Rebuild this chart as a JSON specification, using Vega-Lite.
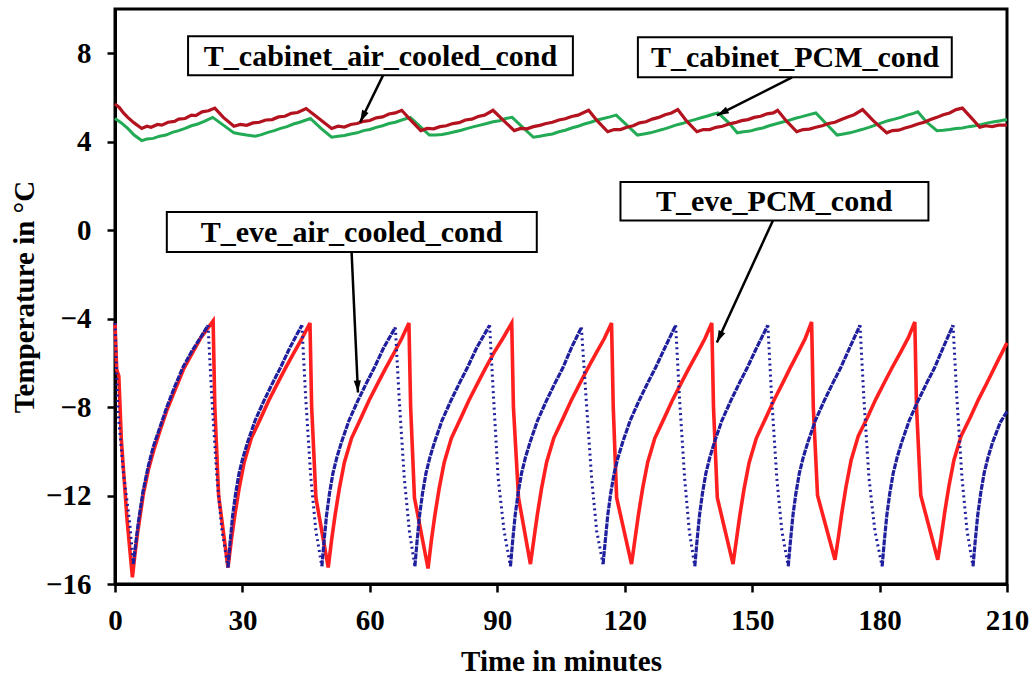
{
  "$schema": "https://vega.github.io/schema/vega-lite/v6.json",
  "autosize": {"type": "none"},
  "width": 892,
  "height": 575,
  "padding": {"left": 115, "top": 9, "right": 27, "bottom": 95},
  "background": "white",
  "config": {
    "view": {"stroke": "black", "strokeWidth": 3},
    "axis": {
      "grid": false,
      "domainColor": "black",
      "domainWidth": 3,
      "tickColor": "black",
      "tickWidth": 2.5,
      "tickSize": 8,
      "labelFont": "Liberation Serif",
      "labelFontSize": 29,
      "labelFontWeight": "bold",
      "labelColor": "black",
      "labelFlush": false,
      "labelOverlap": false,
      "titleFont": "Liberation Serif",
      "titleFontSize": 29,
      "titleFontWeight": "bold",
      "titleColor": "black"
    }
  },
  "datasets": {
    "eveAir": [
      {"c":0,"p":"d","t":0,"v":-4.2},{"c":0,"p":"d","t":0.7,"v":-8.2},{"c":0,"p":"d","t":2.0,"v":-11.0},{"c":0,"p":"d","t":3.5,"v":-13.3},{"c":0,"p":"d","t":4.3,"v":-15.1},
      {"c":1,"p":"r","t":4.3,"v":-15.1},{"c":1,"p":"r","t":4.8,"v":-14.3},{"c":1,"p":"r","t":5.5,"v":-13.2},{"c":1,"p":"r","t":6.6,"v":-11.8},{"c":1,"p":"r","t":7.8,"v":-10.7},{"c":1,"p":"r","t":9,"v":-9.8},{"c":1,"p":"r","t":10.6,"v":-8.9},{"c":1,"p":"r","t":12.2,"v":-8.0},{"c":1,"p":"r","t":14,"v":-7.1},{"c":1,"p":"r","t":16,"v":-6.2},{"c":1,"p":"r","t":18,"v":-5.5},{"c":1,"p":"r","t":20,"v":-4.9},{"c":1,"p":"r","t":21.9,"v":-4.3},
      {"c":1,"p":"d","t":21.9,"v":-4.3},{"c":1,"p":"d","t":22.8,"v":-7.6},{"c":1,"p":"d","t":24.0,"v":-11.2},{"c":1,"p":"d","t":25.2,"v":-13.6},{"c":1,"p":"d","t":26.6,"v":-15.25},
      {"c":2,"p":"r","t":26.6,"v":-15.25},{"c":2,"p":"r","t":27.1,"v":-14.1},{"c":2,"p":"r","t":27.7,"v":-12.9},{"c":2,"p":"r","t":28.4,"v":-11.9},{"c":2,"p":"r","t":29.2,"v":-11.0},{"c":2,"p":"r","t":30.1,"v":-10.3},{"c":2,"p":"r","t":31.2,"v":-9.6},{"c":2,"p":"r","t":33.0,"v":-8.6},{"c":2,"p":"r","t":35.1,"v":-7.7},{"c":2,"p":"r","t":37.0,"v":-6.95},{"c":2,"p":"r","t":39.0,"v":-6.2},{"c":2,"p":"r","t":41.2,"v":-5.3},{"c":2,"p":"r","t":44.0,"v":-4.3},
      {"c":2,"p":"d","t":44.0,"v":-4.3},{"c":2,"p":"d","t":44.9,"v":-7.6},{"c":2,"p":"d","t":46.1,"v":-11.2},{"c":2,"p":"d","t":47.3,"v":-13.6},{"c":2,"p":"d","t":48.7,"v":-15.2},
      {"c":3,"p":"r","t":48.7,"v":-15.2},{"c":3,"p":"r","t":49.2,"v":-14.1},{"c":3,"p":"r","t":49.8,"v":-12.9},{"c":3,"p":"r","t":50.5,"v":-11.9},{"c":3,"p":"r","t":51.3,"v":-11.0},{"c":3,"p":"r","t":52.2,"v":-10.3},{"c":3,"p":"r","t":53.3,"v":-9.6},{"c":3,"p":"r","t":55.1,"v":-8.6},{"c":3,"p":"r","t":57.2,"v":-7.7},{"c":3,"p":"r","t":59.1,"v":-6.95},{"c":3,"p":"r","t":61.1,"v":-6.2},{"c":3,"p":"r","t":63.3,"v":-5.3},{"c":3,"p":"r","t":66.0,"v":-4.4},
      {"c":3,"p":"d","t":66.0,"v":-4.4},{"c":3,"p":"d","t":66.9,"v":-7.6},{"c":3,"p":"d","t":68.1,"v":-11.2},{"c":3,"p":"d","t":69.3,"v":-13.6},{"c":3,"p":"d","t":70.6,"v":-15.2},
      {"c":4,"p":"r","t":70.6,"v":-15.2},{"c":4,"p":"r","t":71.1,"v":-14.1},{"c":4,"p":"r","t":71.7,"v":-12.9},{"c":4,"p":"r","t":72.4,"v":-11.9},{"c":4,"p":"r","t":73.2,"v":-11.0},{"c":4,"p":"r","t":74.1,"v":-10.3},{"c":4,"p":"r","t":75.2,"v":-9.6},{"c":4,"p":"r","t":77.0,"v":-8.6},{"c":4,"p":"r","t":79.1,"v":-7.7},{"c":4,"p":"r","t":81.0,"v":-6.95},{"c":4,"p":"r","t":83.0,"v":-6.2},{"c":4,"p":"r","t":85.2,"v":-5.3},{"c":4,"p":"r","t":88.2,"v":-4.3},
      {"c":4,"p":"d","t":88.2,"v":-4.3},{"c":4,"p":"d","t":89.1,"v":-7.5},{"c":4,"p":"d","t":90.2,"v":-11.2},{"c":4,"p":"d","t":91.6,"v":-13.6},{"c":4,"p":"d","t":93.1,"v":-15.2},
      {"c":5,"p":"r","t":93.1,"v":-15.2},{"c":5,"p":"r","t":93.6,"v":-14.1},{"c":5,"p":"r","t":94.2,"v":-12.9},{"c":5,"p":"r","t":94.9,"v":-11.9},{"c":5,"p":"r","t":95.7,"v":-11.0},{"c":5,"p":"r","t":96.6,"v":-10.3},{"c":5,"p":"r","t":97.7,"v":-9.6},{"c":5,"p":"r","t":99.5,"v":-8.6},{"c":5,"p":"r","t":101.6,"v":-7.7},{"c":5,"p":"r","t":103.5,"v":-6.95},{"c":5,"p":"r","t":105.5,"v":-6.2},{"c":5,"p":"r","t":107.5,"v":-5.3},{"c":5,"p":"r","t":109.8,"v":-4.4},
      {"c":5,"p":"d","t":109.8,"v":-4.4},{"c":5,"p":"d","t":111.0,"v":-7.85},{"c":5,"p":"d","t":112.2,"v":-11.2},{"c":5,"p":"d","t":113.4,"v":-13.6},{"c":5,"p":"d","t":114.9,"v":-15.1},
      {"c":6,"p":"r","t":114.9,"v":-15.1},{"c":6,"p":"r","t":115.4,"v":-14.1},{"c":6,"p":"r","t":116.0,"v":-12.9},{"c":6,"p":"r","t":116.7,"v":-11.9},{"c":6,"p":"r","t":117.5,"v":-11.0},{"c":6,"p":"r","t":118.4,"v":-10.3},{"c":6,"p":"r","t":119.5,"v":-9.6},{"c":6,"p":"r","t":121.3,"v":-8.6},{"c":6,"p":"r","t":123.4,"v":-7.7},{"c":6,"p":"r","t":125.3,"v":-6.95},{"c":6,"p":"r","t":127.3,"v":-6.2},{"c":6,"p":"r","t":129.5,"v":-5.3},{"c":6,"p":"r","t":132.0,"v":-4.3},
      {"c":6,"p":"d","t":132.0,"v":-4.3},{"c":6,"p":"d","t":132.9,"v":-7.6},{"c":6,"p":"d","t":134.1,"v":-11.2},{"c":6,"p":"d","t":135.2,"v":-13.6},{"c":6,"p":"d","t":136.5,"v":-15.2},
      {"c":7,"p":"r","t":136.5,"v":-15.2},{"c":7,"p":"r","t":137.0,"v":-14.1},{"c":7,"p":"r","t":137.6,"v":-12.9},{"c":7,"p":"r","t":138.3,"v":-11.9},{"c":7,"p":"r","t":139.1,"v":-11.0},{"c":7,"p":"r","t":140.0,"v":-10.3},{"c":7,"p":"r","t":141.1,"v":-9.6},{"c":7,"p":"r","t":142.9,"v":-8.6},{"c":7,"p":"r","t":145.0,"v":-7.7},{"c":7,"p":"r","t":146.9,"v":-6.95},{"c":7,"p":"r","t":148.9,"v":-6.2},{"c":7,"p":"r","t":151.1,"v":-5.3},{"c":7,"p":"r","t":153.7,"v":-4.3},
      {"c":7,"p":"d","t":153.7,"v":-4.3},{"c":7,"p":"d","t":154.6,"v":-7.6},{"c":7,"p":"d","t":155.8,"v":-11.2},{"c":7,"p":"d","t":157.0,"v":-13.6},{"c":7,"p":"d","t":158.5,"v":-15.2},
      {"c":8,"p":"r","t":158.5,"v":-15.2},{"c":8,"p":"r","t":159.0,"v":-14.1},{"c":8,"p":"r","t":159.6,"v":-12.9},{"c":8,"p":"r","t":160.3,"v":-11.9},{"c":8,"p":"r","t":161.1,"v":-11.0},{"c":8,"p":"r","t":162.0,"v":-10.3},{"c":8,"p":"r","t":163.1,"v":-9.6},{"c":8,"p":"r","t":164.9,"v":-8.6},{"c":8,"p":"r","t":167.0,"v":-7.7},{"c":8,"p":"r","t":168.9,"v":-6.95},{"c":8,"p":"r","t":170.9,"v":-6.2},{"c":8,"p":"r","t":173.0,"v":-5.3},{"c":8,"p":"r","t":175.4,"v":-4.3},
      {"c":8,"p":"d","t":175.4,"v":-4.3},{"c":8,"p":"d","t":176.3,"v":-7.6},{"c":8,"p":"d","t":177.5,"v":-11.2},{"c":8,"p":"d","t":178.9,"v":-13.6},{"c":8,"p":"d","t":180.6,"v":-15.2},
      {"c":9,"p":"r","t":180.6,"v":-15.2},{"c":9,"p":"r","t":181.1,"v":-14.1},{"c":9,"p":"r","t":181.7,"v":-12.9},{"c":9,"p":"r","t":182.4,"v":-11.9},{"c":9,"p":"r","t":183.2,"v":-11.0},{"c":9,"p":"r","t":184.1,"v":-10.3},{"c":9,"p":"r","t":185.2,"v":-9.6},{"c":9,"p":"r","t":187.0,"v":-8.6},{"c":9,"p":"r","t":189.1,"v":-7.7},{"c":9,"p":"r","t":191.0,"v":-6.95},{"c":9,"p":"r","t":193.0,"v":-6.2},{"c":9,"p":"r","t":195.0,"v":-5.3},{"c":9,"p":"r","t":197.3,"v":-4.3},
      {"c":9,"p":"d","t":197.3,"v":-4.3},{"c":9,"p":"d","t":198.2,"v":-7.6},{"c":9,"p":"d","t":199.4,"v":-11.2},{"c":9,"p":"d","t":200.6,"v":-13.6},{"c":9,"p":"d","t":202.0,"v":-15.2},
      {"c":10,"p":"r","t":202.0,"v":-15.2},{"c":10,"p":"r","t":202.5,"v":-14.1},{"c":10,"p":"r","t":203.1,"v":-12.9},{"c":10,"p":"r","t":203.8,"v":-11.9},{"c":10,"p":"r","t":204.6,"v":-11.0},{"c":10,"p":"r","t":205.5,"v":-10.3},{"c":10,"p":"r","t":206.6,"v":-9.6},{"c":10,"p":"r","t":208.4,"v":-8.7},{"c":10,"p":"r","t":210,"v":-8.2}
    ],
    "evePCM": [
      {"t":0,"v":-4.2},{"t":0.4,"v":-6.3},{"t":0.9,"v":-6.6},{"t":1.5,"v":-9.5},{"t":2.8,"v":-13},{"t":4.1,"v":-15.7},
      {"t":4.6,"v":-14.8},{"t":5.3,"v":-13.7},{"t":6.7,"v":-11.9},{"t":7.9,"v":-10.8},{"t":9.2,"v":-9.9},{"t":10.7,"v":-9.0},{"t":12.3,"v":-8.1},{"t":14.2,"v":-7.2},{"t":16.1,"v":-6.3},{"t":18.1,"v":-5.6},{"t":20.1,"v":-4.9},{"t":23.1,"v":-4.1},
      {"t":23.5,"v":-8.0},{"t":24.4,"v":-12.0},{"t":26.6,"v":-15.25},
      {"t":27.4,"v":-14.0},{"t":28.2,"v":-12.9},{"t":29.2,"v":-11.7},{"t":30.4,"v":-10.5},{"t":32.1,"v":-9.4},{"t":34.3,"v":-8.5},{"t":36.2,"v":-7.7},{"t":38.2,"v":-6.95},{"t":40.1,"v":-6.25},{"t":42.1,"v":-5.55},{"t":44.0,"v":-4.9},{"t":45.9,"v":-4.2},
      {"t":46.3,"v":-8.0},{"t":47.3,"v":-12.1},{"t":50.2,"v":-15.25},
      {"t":51.0,"v":-14.0},{"t":51.8,"v":-12.9},{"t":52.8,"v":-11.7},{"t":54.0,"v":-10.5},{"t":55.7,"v":-9.4},{"t":57.9,"v":-8.5},{"t":59.8,"v":-7.7},{"t":61.8,"v":-6.95},{"t":63.7,"v":-6.25},{"t":65.7,"v":-5.55},{"t":67.5,"v":-4.9},{"t":69.2,"v":-4.2},
      {"t":69.6,"v":-8.0},{"t":70.5,"v":-12.1},{"t":73.7,"v":-15.3},
      {"t":74.5,"v":-14.0},{"t":75.3,"v":-12.9},{"t":76.3,"v":-11.7},{"t":77.5,"v":-10.5},{"t":79.2,"v":-9.4},{"t":81.4,"v":-8.5},{"t":83.3,"v":-7.7},{"t":85.3,"v":-6.95},{"t":87.2,"v":-6.25},{"t":89.2,"v":-5.55},{"t":91.3,"v":-4.9},{"t":93.4,"v":-4.2},
      {"t":93.8,"v":-8.0},{"t":95.0,"v":-12.1},{"t":97.8,"v":-15.1},
      {"t":98.6,"v":-14.0},{"t":99.4,"v":-12.9},{"t":100.4,"v":-11.7},{"t":101.6,"v":-10.5},{"t":103.3,"v":-9.4},{"t":105.5,"v":-8.5},{"t":107.4,"v":-7.7},{"t":109.4,"v":-6.95},{"t":111.3,"v":-6.25},{"t":113.3,"v":-5.55},{"t":115.2,"v":-4.9},{"t":116.9,"v":-4.2},
      {"t":117.3,"v":-8.0},{"t":118.1,"v":-12.1},{"t":121.6,"v":-15.1},
      {"t":122.4,"v":-14.0},{"t":123.2,"v":-12.9},{"t":124.2,"v":-11.7},{"t":125.4,"v":-10.5},{"t":127.1,"v":-9.4},{"t":129.3,"v":-8.5},{"t":131.2,"v":-7.7},{"t":133.2,"v":-6.95},{"t":135.1,"v":-6.25},{"t":137.1,"v":-5.55},{"t":138.9,"v":-4.9},{"t":140.5,"v":-4.2},
      {"t":140.9,"v":-8.0},{"t":141.8,"v":-12.1},{"t":145.5,"v":-15.1},
      {"t":146.3,"v":-14.0},{"t":147.1,"v":-12.9},{"t":148.1,"v":-11.7},{"t":149.3,"v":-10.5},{"t":151.0,"v":-9.4},{"t":153.2,"v":-8.5},{"t":155.1,"v":-7.7},{"t":157.1,"v":-6.95},{"t":158.9,"v":-6.25},{"t":160.8,"v":-5.55},{"t":162.5,"v":-4.9},{"t":164.0,"v":-4.15},
      {"t":164.4,"v":-8.0},{"t":165.4,"v":-12.0},{"t":169.5,"v":-14.9},
      {"t":170.3,"v":-13.9},{"t":171.1,"v":-12.8},{"t":172.1,"v":-11.6},{"t":173.3,"v":-10.4},{"t":175.0,"v":-9.3},{"t":177.2,"v":-8.45},{"t":179.1,"v":-7.65},{"t":181.1,"v":-6.9},{"t":183.0,"v":-6.2},{"t":185.0,"v":-5.5},{"t":186.8,"v":-4.85},{"t":188.3,"v":-4.15},
      {"t":188.7,"v":-8.0},{"t":189.7,"v":-12.0},{"t":193.7,"v":-14.9},
      {"t":194.5,"v":-13.9},{"t":195.3,"v":-12.8},{"t":196.3,"v":-11.6},{"t":197.5,"v":-10.4},{"t":199.2,"v":-9.3},{"t":201.4,"v":-8.45},{"t":203.3,"v":-7.65},{"t":205.3,"v":-6.9},{"t":207.6,"v":-6.0},{"t":210,"v":-5.1}
    ],
    "cabAir": [
      {"t":0,"v":5.7},{"t":1,"v":5.55},{"t":2,"v":5.3},{"t":3,"v":5.1},{"t":4.5,"v":4.85},{"t":6.3,"v":4.6},{"t":7.5,"v":4.7},{"t":8.5,"v":4.65},{"t":10,"v":4.78},{"t":11,"v":4.75},{"t":12.5,"v":4.88},{"t":14,"v":4.92},{"t":15,"v":5.02},{"t":16.5,"v":5.05},{"t":18,"v":5.2},{"t":19,"v":5.18},{"t":20.5,"v":5.35},{"t":22,"v":5.4},{"t":23.5,"v":5.52},
      {"t":25.5,"v":5.1},{"t":28,"v":4.7},{"t":29.5,"v":4.78},{"t":31,"v":4.74},{"t":32.5,"v":4.85},{"t":34,"v":4.88},{"t":35.5,"v":4.98},{"t":37,"v":5.0},{"t":38.5,"v":5.12},{"t":40,"v":5.15},{"t":41.5,"v":5.28},{"t":43,"v":5.32},{"t":45,"v":5.5},
      {"t":48,"v":5.05},{"t":51,"v":4.6},{"t":52.5,"v":4.7},{"t":54,"v":4.66},{"t":55.5,"v":4.78},{"t":57,"v":4.82},{"t":58.5,"v":4.92},{"t":60,"v":4.96},{"t":61.5,"v":5.08},{"t":63,"v":5.12},{"t":64.5,"v":5.25},{"t":66,"v":5.3},{"t":67.5,"v":5.42},
      {"t":69.5,"v":5.0},{"t":72,"v":4.5},{"t":73.5,"v":4.6},{"t":75,"v":4.58},{"t":76.5,"v":4.68},{"t":78,"v":4.72},{"t":79.5,"v":4.82},{"t":81,"v":4.86},{"t":82.5,"v":4.98},{"t":84,"v":5.02},{"t":85.5,"v":5.14},{"t":87,"v":5.2},{"t":89,"v":5.42},
      {"t":91.5,"v":4.95},{"t":94,"v":4.5},{"t":95.5,"v":4.6},{"t":97,"v":4.58},{"t":98.5,"v":4.68},{"t":100,"v":4.74},{"t":101.5,"v":4.82},{"t":103,"v":4.88},{"t":104.5,"v":4.98},{"t":106,"v":5.04},{"t":107.5,"v":5.14},{"t":109,"v":5.2},{"t":111.5,"v":5.42},
      {"t":113.5,"v":4.95},{"t":116,"v":4.45},{"t":117.5,"v":4.55},{"t":119,"v":4.55},{"t":120.5,"v":4.65},{"t":122,"v":4.72},{"t":123.5,"v":4.85},{"t":125,"v":4.9},{"t":126.5,"v":5.02},{"t":128,"v":5.1},{"t":129.5,"v":5.22},{"t":131,"v":5.3},{"t":132.5,"v":5.45},
      {"t":134.5,"v":4.95},{"t":137,"v":4.45},{"t":138.5,"v":4.55},{"t":140,"v":4.55},{"t":141.5,"v":4.65},{"t":143,"v":4.7},{"t":144.5,"v":4.8},{"t":146,"v":4.86},{"t":147.5,"v":4.95},{"t":149,"v":5.0},{"t":150.5,"v":5.1},{"t":152,"v":5.15},{"t":153.5,"v":5.26},{"t":155,"v":5.3},{"t":156,"v":5.42},
      {"t":158,"v":4.95},{"t":160.5,"v":4.45},{"t":162,"v":4.55},{"t":163.5,"v":4.57},{"t":165,"v":4.65},{"t":166.5,"v":4.72},{"t":168,"v":4.82},{"t":169.5,"v":4.88},{"t":171,"v":5.0},{"t":172.5,"v":5.12},{"t":174,"v":5.22},{"t":176,"v":5.45},
      {"t":178.5,"v":4.95},{"t":181.7,"v":4.4},{"t":183,"v":4.5},{"t":184.5,"v":4.52},{"t":186,"v":4.62},{"t":187.5,"v":4.7},{"t":189,"v":4.8},{"t":190.5,"v":4.88},{"t":192,"v":5.0},{"t":193.5,"v":5.1},{"t":195,"v":5.22},{"t":196.5,"v":5.3},{"t":198,"v":5.45},{"t":199.5,"v":5.52},
      {"t":201.5,"v":5.1},{"t":203.6,"v":4.65},{"t":205,"v":4.72},{"t":206.5,"v":4.68},{"t":208,"v":4.75},{"t":210,"v":4.75}
    ],
    "cabPCM": [
      {"t":0,"v":5.05},{"t":1.5,"v":4.85},{"t":3,"v":4.6},{"t":4.5,"v":4.3},{"t":6.3,"v":4.05},{"t":7.5,"v":4.12},{"t":9,"v":4.15},{"t":10.5,"v":4.25},{"t":12,"v":4.3},{"t":13.5,"v":4.42},{"t":15,"v":4.5},{"t":16.5,"v":4.6},{"t":18,"v":4.72},{"t":19.5,"v":4.8},{"t":21,"v":4.92},{"t":23,"v":5.1},
      {"t":25.5,"v":4.75},{"t":28,"v":4.4},{"t":29.5,"v":4.35},{"t":31,"v":4.3},{"t":33,"v":4.25},{"t":34.5,"v":4.32},{"t":36,"v":4.42},{"t":37.5,"v":4.5},{"t":39,"v":4.6},{"t":40.5,"v":4.68},{"t":42,"v":4.8},{"t":43.5,"v":4.88},{"t":46,"v":5.05},
      {"t":48.5,"v":4.6},{"t":51,"v":4.2},{"t":52.5,"v":4.25},{"t":54,"v":4.28},{"t":55.5,"v":4.35},{"t":57,"v":4.4},{"t":58.5,"v":4.5},{"t":60,"v":4.55},{"t":61.5,"v":4.65},{"t":63,"v":4.72},{"t":64.5,"v":4.82},{"t":66,"v":4.88},{"t":67.5,"v":4.98},{"t":69.5,"v":5.1},
      {"t":71.5,"v":4.75},{"t":74,"v":4.3},{"t":75.5,"v":4.3},{"t":77,"v":4.33},{"t":78.5,"v":4.38},{"t":80,"v":4.45},{"t":81.5,"v":4.52},{"t":83,"v":4.6},{"t":84.5,"v":4.68},{"t":86,"v":4.75},{"t":87.5,"v":4.82},{"t":89,"v":4.9},{"t":90.5,"v":4.95},{"t":92,"v":5.05},{"t":93.5,"v":5.1},
      {"t":96,"v":4.65},{"t":98.5,"v":4.2},{"t":100,"v":4.25},{"t":101.5,"v":4.3},{"t":103,"v":4.35},{"t":104.5,"v":4.45},{"t":106,"v":4.52},{"t":107.5,"v":4.62},{"t":109,"v":4.7},{"t":110.5,"v":4.8},{"t":112,"v":4.88},{"t":113.5,"v":4.98},{"t":115,"v":5.05},{"t":116.5,"v":5.12},{"t":118,"v":5.2},
      {"t":120.5,"v":4.75},{"t":123,"v":4.3},{"t":124.5,"v":4.35},{"t":126,"v":4.4},{"t":127.5,"v":4.48},{"t":129,"v":4.56},{"t":130.5,"v":4.65},{"t":132,"v":4.75},{"t":133.5,"v":4.82},{"t":135,"v":4.92},{"t":136.5,"v":5.0},{"t":138,"v":5.08},{"t":139.5,"v":5.16},{"t":141,"v":5.25},{"t":142,"v":5.3},
      {"t":144.5,"v":4.85},{"t":146.5,"v":4.4},{"t":148,"v":4.45},{"t":149.5,"v":4.48},{"t":151,"v":4.56},{"t":152.5,"v":4.62},{"t":154,"v":4.72},{"t":155.5,"v":4.8},{"t":157,"v":4.88},{"t":158.5,"v":4.95},{"t":160,"v":5.05},{"t":161.5,"v":5.12},{"t":163,"v":5.2},{"t":165,"v":5.3},
      {"t":167.5,"v":4.8},{"t":170,"v":4.3},{"t":171.5,"v":4.35},{"t":173,"v":4.4},{"t":174.5,"v":4.48},{"t":176,"v":4.56},{"t":177.5,"v":4.65},{"t":179,"v":4.75},{"t":180.5,"v":4.85},{"t":182,"v":4.95},{"t":183.5,"v":5.02},{"t":185,"v":5.1},{"t":186.5,"v":5.2},{"t":188,"v":5.28},{"t":189,"v":5.35},
      {"t":191,"v":4.9},{"t":193.5,"v":4.5},{"t":195,"v":4.52},{"t":196.5,"v":4.55},{"t":198,"v":4.6},{"t":199.5,"v":4.62},{"t":201,"v":4.68},{"t":202.5,"v":4.72},{"t":204,"v":4.78},{"t":205.5,"v":4.85},{"t":207,"v":4.9},{"t":208.5,"v":4.95},{"t":210,"v":5.0}
    ],
    "boxes": [
      {"label":"T_cabinet_air_cooled_cond","x1":17.2,"x2":107.8,"y1":8.77,"y2":7.0,"xc":62.5,"yc":7.89},
      {"label":"T_cabinet_PCM_cond","x1":123.1,"x2":197.0,"y1":8.72,"y2":6.91,"xc":160.1,"yc":7.82},
      {"label":"T_eve_air_cooled_cond","x1":12.2,"x2":99.3,"y1":0.82,"y2":-0.99,"xc":55.7,"yc":-0.09},
      {"label":"T_eve_PCM_cond","x1":119.0,"x2":191.5,"y1":2.18,"y2":0.44,"xc":155.2,"yc":1.31}
    ],
    "arrows": [
      {"id":1,"xs":63.1,"ys":7.0,"xt":57.7,"yt":4.88},
      {"id":2,"xs":159.4,"ys":6.91,"xt":141.7,"yt":5.19},
      {"id":3,"xs":55.7,"ys":-0.99,"xt":57.2,"yt":-7.34},
      {"id":4,"xs":154.9,"ys":0.44,"xt":141.7,"yt":-5.08}
    ]
  },
  "layer": [
    {
      "data": {"name": "cabPCM"},
      "mark": {"type": "line", "color": "#22aa55", "strokeWidth": 3},
      "encoding": {
        "x": {"field": "t", "type": "quantitative", "scale": {"domain": [0, 210], "nice": false},
          "axis": {"values": [0,30,60,90,120,150,180,210], "title": "Time in minutes", "labelPadding": 14, "titleY": 86, "titleBaseline": "alphabetic"}},
        "y": {"field": "v", "type": "quantitative", "scale": {"domain": [-16, 10], "nice": false},
          "axis": {"values": [-16,-12,-8,-4,0,4,8], "title": "Temperature in °C", "labelPadding": 16, "titleX": -82, "titleBaseline": "alphabetic"}}
      }
    },
    {
      "data": {"name": "cabAir"},
      "mark": {"type": "line", "color": "#b3121f", "strokeWidth": 3.2},
      "encoding": {"x": {"field": "t", "type": "quantitative"}, "y": {"field": "v", "type": "quantitative"}}
    },
    {
      "data": {"name": "evePCM"},
      "mark": {"type": "line", "color": "#ff1f1f", "strokeWidth": 3.6},
      "encoding": {"x": {"field": "t", "type": "quantitative"}, "y": {"field": "v", "type": "quantitative"}}
    },
    {
      "data": {"name": "eveAir"},
      "transform": [{"filter": "datum.p == 'r'"}],
      "mark": {"type": "line", "color": "#1f1f9e", "strokeWidth": 3.2, "strokeDash": [6, 1]},
      "encoding": {"x": {"field": "t", "type": "quantitative"}, "y": {"field": "v", "type": "quantitative"}, "detail": {"field": "c"}}
    },
    {
      "data": {"name": "eveAir"},
      "transform": [{"filter": "datum.p == 'd'"}],
      "mark": {"type": "line", "color": "#1f1f9e", "strokeWidth": 3, "strokeDash": [2, 3.5]},
      "encoding": {"x": {"field": "t", "type": "quantitative"}, "y": {"field": "v", "type": "quantitative"}, "detail": {"field": "c"}}
    },
    {
      "data": {"name": "boxes"},
      "mark": {"type": "rect", "fill": "white", "stroke": "black", "strokeWidth": 2},
      "encoding": {
        "x": {"field": "x1", "type": "quantitative"}, "x2": {"field": "x2"},
        "y": {"field": "y1", "type": "quantitative"}, "y2": {"field": "y2"}
      }
    },
    {
      "data": {"name": "boxes"},
      "mark": {"type": "text", "font": "Liberation Serif", "fontSize": 30, "fontWeight": "bold", "color": "black", "align": "center", "baseline": "middle", "dy": 1},
      "encoding": {
        "x": {"field": "xc", "type": "quantitative"},
        "y": {"field": "yc", "type": "quantitative"},
        "text": {"field": "label"}
      }
    },
    {
      "data": {"name": "arrows"},
      "mark": {"type": "rule", "color": "black", "strokeWidth": 2.5},
      "encoding": {
        "x": {"field": "xs", "type": "quantitative"}, "x2": {"field": "xt"},
        "y": {"field": "ys", "type": "quantitative"}, "y2": {"field": "yt"}
      }
    },
    {
      "data": {"name": "arrows"},
      "transform": [{"filter": "datum.id == 1"}],
      "mark": {"type": "point", "shape": "M0,0L-0.6,2L0.6,2Z", "size": 144, "filled": true, "color": "black", "opacity": 1, "angle": 206},
      "encoding": {"x": {"field": "xt", "type": "quantitative"}, "y": {"field": "yt", "type": "quantitative"}}
    },
    {
      "data": {"name": "arrows"},
      "transform": [{"filter": "datum.id == 2"}],
      "mark": {"type": "point", "shape": "M0,0L-0.6,2L0.6,2Z", "size": 144, "filled": true, "color": "black", "opacity": 1, "angle": 243},
      "encoding": {"x": {"field": "xt", "type": "quantitative"}, "y": {"field": "yt", "type": "quantitative"}}
    },
    {
      "data": {"name": "arrows"},
      "transform": [{"filter": "datum.id == 3"}],
      "mark": {"type": "point", "shape": "M0,0L-0.6,2L0.6,2Z", "size": 144, "filled": true, "color": "black", "opacity": 1, "angle": 177},
      "encoding": {"x": {"field": "xt", "type": "quantitative"}, "y": {"field": "yt", "type": "quantitative"}}
    },
    {
      "data": {"name": "arrows"},
      "transform": [{"filter": "datum.id == 4"}],
      "mark": {"type": "point", "shape": "M0,0L-0.6,2L0.6,2Z", "size": 144, "filled": true, "color": "black", "opacity": 1, "angle": 205},
      "encoding": {"x": {"field": "xt", "type": "quantitative"}, "y": {"field": "yt", "type": "quantitative"}}
    }
  ]
}
